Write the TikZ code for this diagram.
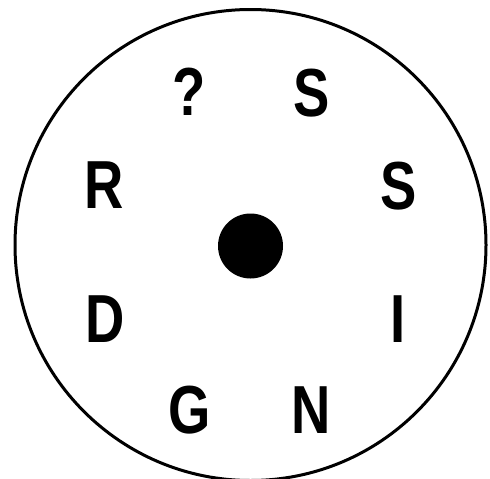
\documentclass[tikz,border=0pt]{standalone}
\usepackage{fontspec}
\setmainfont{Liberation Sans}
\newcommand{\ltr}[1]{\scalebox{0.8}[1]{\bfseries #1}}
\begin{document}
\begin{tikzpicture}[x=1pt,y=-1pt,
  letter/.style={inner sep=0pt,anchor=base,font=\fontsize{68}{68}\selectfont}]
\useasboundingbox (0,0) rectangle (490,479);
\begin{scope}
\clip (0,0) rectangle (490,479);
\draw[line width=3pt] (250.5,245) circle[radius=235.5];
\end{scope}
\fill (250.5,246) circle[radius=32.5];
\node[letter] (q) at (189.5,115) {\ltr{?}};
\node[letter] (s1) at (311.5,116) {\ltr{S}};
\node[letter] (r) at (104.5,208) {\ltr{R}};
\node[letter] (s2) at (398.5,209) {\ltr{S}};
\node[letter] (d) at (105.5,342) {\ltr{D}};
\node[letter] (i) at (398,342) {\ltr{I}};
\node[letter] (g) at (189.5,433) {\ltr{G}};
\node[letter] (n) at (311.5,433) {\ltr{N}};
\end{tikzpicture}
\end{document}
